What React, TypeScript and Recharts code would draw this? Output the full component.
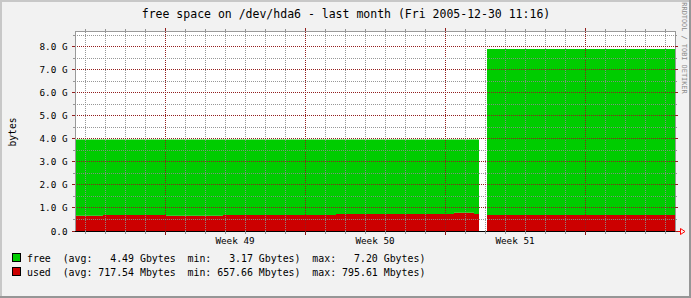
import React from 'react';
import { ComposedChart, Area, XAxis, YAxis, ReferenceLine, Legend } from 'recharts';

// ---- data (days from the left edge of the graph, values in GB) ----
const dayStarts = [0, 1.4, 4.55, 7.4, 13.05, 18.95, 19.95, 20.2, 20.2, 20.6, 30];
const usedGB = [0.66, 0.69, 0.66, 0.69, 0.74, 0.79, 0.74, 0.74, null, 0.69, 0.69];
const freeGB = [3.31, 3.28, 3.31, 3.28, 3.23, 3.18, 3.23, 3.23, null, 7.21, 7.21];

// ---- axes / grid ----
const minorDays = [0.5, 1.5, 2.5, 3.5, 5.5, 6.5, 7.5, 8.5, 9.5, 10.5, 12.5, 13.5, 14.5, 15.5, 16.5, 17.5, 19.5, 20.5, 21.5, 22.5, 23.5, 24.5, 26.5, 27.5, 28.5, 29.5];
const majorDays = [4.5, 11.5, 18.5, 25.5];
const weekLabelDays = [8, 15, 22];
const weekLabels = ['Week 49', 'Week 50', 'Week 51'];
const yMajor = [0, 1, 2, 3, 4, 5, 6, 7, 8];
const yMinor = [0.5, 1.5, 2.5, 3.5, 4.5, 5.5, 6.5, 7.5, 8.5];
const yLabels = ['0.0', '1.0 G', '2.0 G', '3.0 G', '4.0 G', '5.0 G', '6.0 G', '7.0 G', '8.0 G'];

// ---- legend ----
const seriesNames = ['free', 'used'];
const seriesColors = ['#00CC00', '#CC0000'];
const legendAvg = ['  4.49 Gbytes', '717.54 Mbytes'];
const legendMin = ['  3.17 Gbytes', '657.66 Mbytes'];
const legendMax = ['  7.20 Gbytes', '795.61 Mbytes'];

const title = 'free space on /dev/hda6 - last month (Fri 2005-12-30 11:16)';

const data = dayStarts.map((d, i) => ({ day: d, used: usedGB[i], free: freeGB[i] }));

const FONT = '"DejaVu Sans Mono", monospace';
const GRID = 'rgba(140,140,140,0.9)';
const MGRID = '#921E1E';
const BG = '#F2F2F2';

function XTickBottom(props: any) {
  const { x, y, payload } = props;
  const v = payload.value;
  const li = weekLabelDays.indexOf(v);
  if (li >= 0) {
    return (
      <text x={x} y={y + 12.5} textAnchor="middle" fontFamily={FONT} fontSize={9.3} fill="#000">
        {weekLabels[li]}
      </text>
    );
  }
  const major = majorDays.includes(v);
  return <line x1={x} x2={x} y1={y} y2={y + (major ? 3.5 : 2.5)} stroke={major ? MGRID : GRID} shapeRendering="crispEdges" />;
}

function XTickTop(props: any) {
  const { x, y, payload } = props;
  const major = majorDays.includes(payload.value);
  return <line x1={x} x2={x} y1={y} y2={y - (major ? 3 : 2)} stroke={major ? MGRID : GRID} shapeRendering="crispEdges" />;
}

function YTickLeft(props: any) {
  const { x, y, payload } = props;
  const v = payload.value;
  const i = yMajor.indexOf(v);
  if (i >= 0) {
    return (
      <g>
        <line x1={x - 3} x2={x} y1={y} y2={y} stroke={MGRID} shapeRendering="crispEdges" />
        <text x={x - 7.5} y={y + 3.5} textAnchor="end" fontFamily={FONT} fontSize={9.3} fill="#000">
          {yLabels[i]}
        </text>
      </g>
    );
  }
  return <line x1={x - 2} x2={x} y1={y} y2={y} stroke={GRID} shapeRendering="crispEdges" />;
}

function YTickRight(props: any) {
  const { x, y, payload } = props;
  const major = yMajor.includes(payload.value);
  return <line x1={x} x2={x + (major ? 3 : 2)} y1={y} y2={y} stroke={major ? MGRID : GRID} shapeRendering="crispEdges" />;
}

function LegendContent() {
  return (
    <svg width={691} height={40} style={{ display: 'block' }}>
      {seriesNames.map((n, i) => {
        const line = `${n}  (avg: ${legendAvg[i]}  min: ${legendMin[i]})  max: ${legendMax[i]})`;
        return (
          <g key={n}>
            <rect x={12.5} y={5.5 + i * 14} width={8} height={8} fill={seriesColors[i]} stroke="#000" />
            <text x={27} y={13.5 + i * 14} fontFamily={FONT} fontSize={9.9} fill="#000" style={{ whiteSpace: 'pre' }}>
              {line}
            </text>
          </g>
        );
      })}
    </svg>
  );
}

export default function App() {
  return (
    <div style={{ position: 'absolute', left: 0, top: 0, width: 691, height: 298, background: BG, overflow: 'hidden' }}>
      <svg width={691} height={298} style={{ position: 'absolute', left: 0, top: 0 }}>
        <rect x={0} y={0} width={691} height={2} fill="#C8C8C8" />
        <rect x={0} y={0} width={2} height={298} fill="#C8C8C8" />
        <rect x={689} y={0} width={2} height={298} fill="#969696" />
        <rect x={0} y={296} width={691} height={2} fill="#969696" />
        <rect x={75} y={31} width={600} height={200} fill="#FFFFFF" />
        <text x={346} y={17.5} textAnchor="middle" fontFamily={FONT} fontSize={11.5} fill="#000">
          {title}
        </text>
        <text
          x={684}
          y={48}
          transform="rotate(90 684 48)"
          textAnchor="middle"
          dominantBaseline="central"
          fontFamily={FONT}
          fontSize={6.9}
          fill="#8a8a8a"
        >
          RRDTOOL / TOBI OETIKER
        </text>
        <text
          x={12}
          y={132}
          transform="rotate(-90 12 132)"
          textAnchor="middle"
          dominantBaseline="central"
          fontFamily={FONT}
          fontSize={9.7}
          fill="#000"
        >
          bytes
        </text>
        <polyline points="676,231.5 680.5,231.5 680.5,228.5 685,231.5 680.5,234.5 680.5,231.5" fill="none" stroke="#FF0000" />
      </svg>
      <div style={{ position: 'absolute', left: 0, top: 0 }}>
        <ComposedChart width={691} height={298} data={data} margin={{ top: 0, right: 0, bottom: 0, left: 0 }}>
          <XAxis
            dataKey="day"
            type="number"
            domain={[0, 30]}
            allowDataOverflow
            ticks={[...minorDays, ...majorDays, ...weekLabelDays]}
            interval={0}
            height={67}
            tickSize={0}
            tickMargin={0}
            tickLine={false}
            axisLine={{ stroke: '#000', shapeRendering: 'crispEdges' }}
            tick={(p: any) => <XTickBottom {...p} />}
          />
          <XAxis
            xAxisId="top"
            orientation="top"
            dataKey="day"
            type="number"
            domain={[0, 30]}
            allowDataOverflow
            ticks={[...minorDays, ...majorDays]}
            interval={0}
            height={31}
            tickSize={0}
            tickMargin={0}
            tickLine={false}
            axisLine={{ stroke: '#999', shapeRendering: 'crispEdges' }}
            tick={(p: any) => <XTickTop {...p} />}
          />
          <YAxis
            type="number"
            domain={[0, 8.68]}
            allowDataOverflow
            ticks={[...yMajor, ...yMinor]}
            interval={0}
            width={75}
            tickSize={0}
            tickMargin={0}
            tickLine={false}
            axisLine={{ stroke: '#999', shapeRendering: 'crispEdges' }}
            tick={(p: any) => <YTickLeft {...p} />}
          />
          <YAxis
            yAxisId="right"
            orientation="right"
            type="number"
            domain={[0, 8.68]}
            allowDataOverflow
            ticks={[...yMajor, ...yMinor]}
            interval={0}
            width={16}
            tickSize={0}
            tickMargin={0}
            tickLine={false}
            axisLine={{ stroke: '#999', shapeRendering: 'crispEdges' }}
            tick={(p: any) => <YTickRight {...p} />}
          />
          <Area
            dataKey="used"
            stackId="a"
            type="stepAfter"
            fill="#CC0000"
            fillOpacity={1}
            stroke="none"
            isAnimationActive={false}
            dot={false}
            activeDot={false}
          />
          <Area
            dataKey="free"
            stackId="a"
            type="stepAfter"
            fill="#00CC00"
            fillOpacity={1}
            stroke="none"
            isAnimationActive={false}
            dot={false}
            activeDot={false}
          />
          {minorDays.map((d) => (
            <ReferenceLine key={`vx${d}`} x={d} stroke={GRID} strokeDasharray="1 1" shapeRendering="crispEdges" />
          ))}
          {majorDays.map((d) => (
            <ReferenceLine key={`VX${d}`} x={d} stroke={MGRID} strokeDasharray="1 1" shapeRendering="crispEdges" />
          ))}
          {yMinor.map((v) => (
            <ReferenceLine key={`hy${v}`} y={v} stroke={GRID} strokeDasharray="1 1" shapeRendering="crispEdges" />
          ))}
          {yMajor.slice(1).map((v) => (
            <ReferenceLine key={`HY${v}`} y={v} stroke={MGRID} strokeDasharray="1 1" shapeRendering="crispEdges" />
          ))}
          <Legend
            verticalAlign="middle"
            align="center"
            layout="horizontal"
            wrapperStyle={{ left: 0, top: 248, width: 691, height: 40 }}
            content={() => <LegendContent />}
          />
        </ComposedChart>
      </div>
    </div>
  );
}
